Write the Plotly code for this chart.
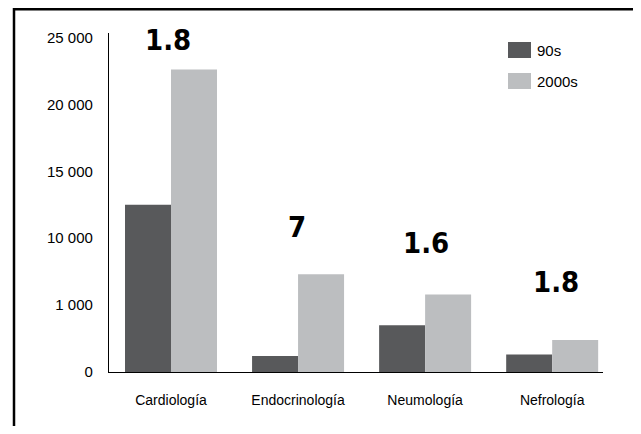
import plotly.graph_objects as go

categories = ["Cardiología", "Endocrinología", "Neumología", "Nefrología"]
series_names = ["90s", "2000s"]
values_90s = [12500, 1200, 3500, 1300]
values_2000s = [22600, 7300, 5800, 2400]
ratio_labels = ["1.8", "7", "1.6", "1.8"]
tick_values = [0, 5000, 10000, 15000, 20000, 25000]
tick_labels = ["0", "1 000", "10 000", "15 000", "20 000", "25 000"]

colors = ["#58595b", "#bcbec0"]

OFF = 8  # page body margin
W, H = 641 - OFF, 434 - 2 * OFF
L, R, T, B = 109 - OFF, 603 - OFF, 33 - OFF, 372 - OFF  # plot area pixels in figure


def px_x(p):
    return (p - OFF - L) / (R - L)


def px_y(p):
    return (B - (p - OFF)) / (B - T)


fig = go.Figure()
for name, vals, col in zip(series_names, [values_90s, values_2000s], colors):
    fig.add_trace(go.Bar(x=categories, y=vals, name=name, marker_color=col,
                         marker_line_width=0, showlegend=False))

# ratio labels above groups (reference pixel centres)
label_y_px = [40, 227, 243, 282]
label_dx = [-3, -1, 1, 4]
for i, (cat, txt) in enumerate(zip(categories, ratio_labels)):
    fig.add_annotation(x=cat, y=px_y(label_y_px[i]), xref="x", yref="paper",
                       text=f"<b>{txt}</b>", showarrow=False, xshift=label_dx[i],
                       font=dict(family="DejaVu Sans Condensed", size=29, color="black"),
                       xanchor="center", yanchor="middle")

# custom legend
leg = [(42, 58), (73, 89)]
for (y0, y1), name, col in zip(leg, series_names, colors):
    fig.add_shape(type="rect", xref="paper", yref="paper",
                  x0=px_x(508), x1=px_x(531), y0=px_y(y1), y1=px_y(y0),
                  fillcolor=col, line_width=0)
    fig.add_annotation(x=px_x(535), y=px_y((y0 + y1) / 2), xref="paper", yref="paper",
                       text=name, showarrow=False, xanchor="left", yanchor="middle",
                       font=dict(family="Liberation Sans", size=15, color="black"))

# outer frame
fig.add_shape(type="rect", xref="paper", yref="paper",
              x0=px_x(14), x1=px_x(635), y0=px_y(450), y1=px_y(9.3),
              line=dict(color="black", width=2.5), fillcolor="rgba(0,0,0,0)", layer="above")

fig.update_layout(
    width=W, height=H,
    margin=dict(l=L, r=W - R, t=T, b=H - B),
    paper_bgcolor="white", plot_bgcolor="white",
    barmode="group", bargap=0.276, bargroupgap=0,
    font=dict(family="Liberation Sans", size=14, color="black"),
    xaxis=dict(type="category", range=[-0.488, 3.40], showline=True, linecolor="black",
               linewidth=1, ticks="", showgrid=False, zeroline=False,
               tickfont=dict(family="Liberation Sans", size=14),
               ticklabelstandoff=15),
    yaxis=dict(range=[0, 25000 * 339 / 334.5], showline=True, linecolor="black", linewidth=1.3,
               tickvals=tick_values, ticktext=tick_labels, ticks="", showgrid=False,
               zeroline=False, tickfont=dict(family="Liberation Sans", size=15),
               ticklabelstandoff=12),
)

fig.write_html("out.html")
